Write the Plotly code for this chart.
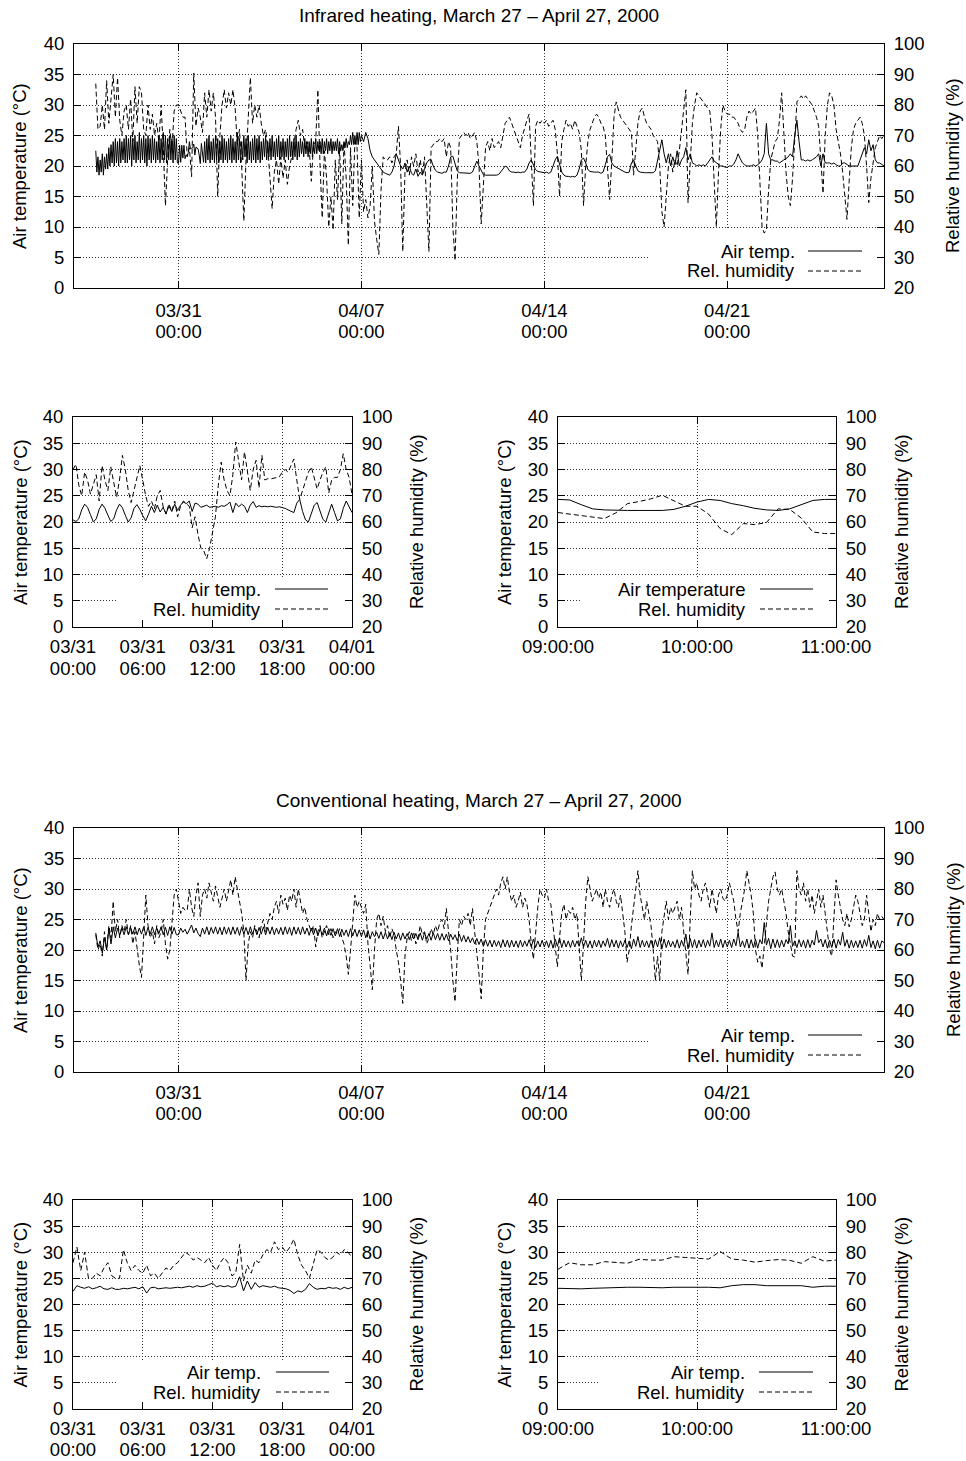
import plotly.graph_objects as go
import pandas as pd

# ---------------- DATA ----------------
# Infrared, hourly 2000-03-27 20:00 .. 2000-04-06 23:00 (fast thermostat cycling)
ir_temp_hourly = [
    22.5, 19.0, 21.5, 18.5,
    21, 19, 22, 18.5, 21.5, 19.5, 22, 19.5, 23, 20, 23.5, 20.5, 24, 20, 24.5, 20.5, 24, 20, 24.5, 20.5, 24, 21, 24.5, 20.5,  # 03/28
    25, 20.5, 24.5, 21, 25, 20, 24.5, 21, 25, 20.5, 24, 21, 25.5, 20.5, 24.5, 21, 25, 20.5, 24.5, 20, 25, 21, 24.5, 20.5,  # 03/29
    25, 21, 24.5, 20.5, 24, 21, 25, 20.5, 24.5, 21, 25.5, 21, 25, 20.5, 24.5, 21, 25, 21, 24.5, 20.5, 25, 21, 24.5, 20.5,  # 03/30
    20.4, 23.4, 20.6, 23.4, 21.3, 23.4, 21.2, 21.8, 21.6, 22.2, 24.0, 22.8, 22.9, 23.0, 23.6, 21.8, 23.1, 23.0, 22.8, 21.8, 20.4, 23.7, 21.6, 20.6,  # 03/31
    24, 20.5, 24.5, 21, 25, 20.5, 24, 21, 24.5, 20.5, 25, 21, 24.5, 20.5, 24, 21, 25, 20.5, 24.5, 21, 24, 20.5, 24.5, 21,  # 04/01
    25, 20.5, 24.5, 21, 24, 20.5, 25.5, 21, 24.5, 20.5, 24, 21, 25, 21.5, 24.5, 20.5, 25, 21, 24, 20.5, 24.5, 21, 25, 20.5,  # 04/02
    24.5, 21, 25, 20.5, 24, 21, 24.5, 21.5, 25, 21, 24, 21.5, 24.5, 21, 25, 21.5, 24, 21, 24.5, 21.5, 25, 21, 24, 21.5,  # 04/03
    24.5, 21, 24, 21.5, 24.5, 21, 25, 21.5, 24, 21, 24.5, 21.5, 25, 21, 24, 21.5, 24.5, 22, 24, 21.5, 24.5, 22, 24, 21.5,  # 04/04
    24, 22, 24.5, 21.5, 24, 22, 24.5, 22, 24, 22.5, 24, 22, 24.5, 22, 24, 22.5, 24.5, 22, 24, 22.5, 24.5, 22, 24, 22.5,  # 04/05
    24, 22.5, 24.5, 22, 24, 22.5, 23.5, 22.5, 24, 23, 24.5, 23, 24, 23.5, 25, 23.5, 25.5, 23.5, 25, 23.5, 25.5, 23.5, 25.5, 24,  # 04/06
]
# Infrared, 2-hourly 2000-04-07 00:00 .. 2000-04-27 00:00
ir_temp_month = [
    25.0, 24.0, 25.5, 24.5, 22.5, 21.5, 21.0, 20.5, 20.0, 19.5, 19.0, 18.8,  # 04/07
    18.6, 18.5, 19.0, 20.0, 22.0, 21.0, 20.0, 19.5, 20.5, 19.0, 20.0, 18.8,  # 04/08
    18.5, 19.5, 18.3, 19.0, 18.5, 19.5, 20.5, 21.0, 21.0, 20.0, 19.3, 19.0,  # 04/09
    18.9, 18.8, 19.0, 19.0, 20.0, 21.5, 21.6, 20.5, 19.2, 18.9, 18.9, 18.8,  # 04/10
    18.9, 18.9, 18.8, 19.0, 20.0, 20.8, 20.0, 19.2, 18.6, 18.5, 18.5, 18.4,  # 04/11
    18.5, 18.4, 18.5, 18.6, 19.0, 19.5, 20.0, 19.8, 19.2, 19.0, 19.0, 18.9,  # 04/12
    19.0, 18.9, 19.0, 19.0, 19.5, 20.5, 21.0, 20.2, 19.4, 19.1, 19.0, 19.0,  # 04/13
    18.9, 19.0, 18.8, 19.0, 20.0, 21.0, 21.6, 20.5, 19.0, 18.5, 18.3, 18.3,  # 04/14
    18.2, 18.3, 18.2, 18.5, 19.5, 21.0, 21.3, 20.5, 19.4, 19.1, 19.0, 19.0,  # 04/15
    19.0, 19.0, 18.8, 19.0, 20.2, 21.5, 21.9, 20.5, 20.0, 19.8, 19.5, 19.4,  # 04/16
    19.2, 19.0, 18.9, 19.0, 20.5, 21.0, 20.0, 19.2, 19.0, 18.9, 18.9, 18.9,  # 04/17
    18.9, 18.8, 18.9, 19.2, 21.0, 23.0, 24.3, 22.0, 20.5, 22.0, 20.0, 21.5,  # 04/18
    20.2, 22.5, 20.0, 21.0, 21.5, 23.0, 21.0, 22.0, 20.5, 20.3, 20.0, 20.2,  # 04/19
    20.0, 20.2, 20.0, 20.5, 21.0, 21.5, 20.8, 20.5, 20.2, 20.0, 20.0, 19.8,  # 04/20
    19.8, 20.0, 20.0, 20.3, 21.0, 22.0, 21.2, 20.5, 20.2, 20.0, 20.0, 20.0,  # 04/21
    20.2, 20.0, 20.2, 20.5, 21.0, 22.0, 27.0, 22.0, 21.0, 21.0, 20.8, 20.8,  # 04/22
    20.5, 20.8, 21.0, 21.2, 21.5, 22.0, 21.5, 25.0, 27.5, 24.0, 21.0, 21.0,  # 04/23
    20.8, 21.0, 20.8, 21.0, 21.2, 21.5, 22.0, 20.0, 22.0, 20.5, 20.5, 20.5,  # 04/24
    20.3, 20.5, 20.2, 20.0, 20.0, 20.5, 20.5, 20.2, 20.0, 20.0, 20.0, 20.0,  # 04/25
    20.0, 21.0, 22.0, 23.0, 22.0, 24.3, 22.5, 23.5, 21.0, 20.5, 20.5, 20.3,  # 04/26
    20.0,
]
# Infrared RH, 2-hourly from 2000-03-27 20:00
ir_rh_month = [
    87, 72,
    73, 80, 72, 88, 74, 82, 90, 76, 89, 75, 70, 78,  # 03/28
    80, 72, 82, 68, 86, 74, 86, 84, 72, 70, 80, 72,  # 03/29
    77, 70, 74, 68, 80, 66, 47, 62, 72, 66, 78, 80,  # 03/30
    80, 78, 76, 76, 63, 66, 56.5, 90.5, 73, 79, 76, 71,  # 03/31
    84, 76, 85, 78, 84, 76, 50, 70, 80, 85, 79, 84,  # 04/01
    80, 85, 79, 67, 72, 60, 42, 62, 75, 89, 74, 80,  # 04/02
    76, 80, 74, 70, 72, 66, 56, 46, 58, 62, 54, 63,  # 04/03
    56, 62, 54, 60, 63, 68, 72, 75, 70, 72, 66, 68,  # 04/04
    66, 55, 67, 68, 85, 60, 43, 65, 56, 40, 50, 39,  # 04/05
    62, 49, 66, 41, 68, 56, 34, 66, 47, 68, 66, 43,  # 04/06
    62, 45, 49, 43, 47, 60, 42, 36, 31, 52, 63, 62,  # 04/07
    62, 63, 61, 63, 64, 73, 60, 32, 58, 62, 57, 63,  # 04/08
    60, 64, 58, 62, 57, 63, 45, 32, 66, 67, 68, 68,  # 04/09
    69, 68, 69, 63, 68, 66, 40, 29, 55, 69, 70, 71,  # 04/10
    70, 71, 69, 70, 71, 68, 60, 41, 56, 66, 68, 65,  # 04/11
    69, 66, 67, 68, 66, 70, 74, 75, 76, 74, 72, 70,  # 04/12
    68, 66, 70, 73, 75, 77, 60, 47, 73, 75, 74, 75,  # 04/13
    74, 75, 73, 74, 75, 72, 64, 50, 68, 72, 75, 73,  # 04/14
    74, 72, 75, 73, 71, 65, 47, 60, 68, 72, 74, 76,  # 04/15
    77, 76, 74, 73, 70, 60, 49, 62, 76, 81, 78, 76,  # 04/16
    75, 74, 73, 72, 71, 57, 66, 74, 78, 79, 76, 74,  # 04/17
    73, 72, 70, 69, 68, 60, 45, 40, 52, 60, 64, 58,  # 04/18
    62, 60, 65, 72, 80, 85, 48, 62, 74, 80, 84, 83,  # 04/19
    82, 81, 80, 79, 78, 70, 55, 40, 58, 72, 80, 78,  # 04/20
    77, 77, 76, 76, 75, 74, 72, 71, 72, 76, 78, 77,  # 04/21
    78, 79, 70, 55, 40, 38, 39, 52, 62, 65, 68, 69,  # 04/22
    75, 84, 70, 58, 50, 47, 56, 70, 81, 82, 83, 82,  # 04/23
    83, 82, 81, 80, 78, 76, 73, 60, 51, 70, 80, 84,  # 04/24
    83, 80, 72, 68, 64, 58, 50, 42.5, 55, 66, 72, 74,  # 04/25
    75, 76, 74, 70, 60, 48, 56, 62, 66, 68, 70, 69,  # 04/26
    70,
]
# Conventional, 2-hourly from 2000-03-27 20:00
conv_temp_month = [
    22.8, 20.5,
    21.5, 19.5, 22.0, 20.0, 23.5, 21.0, 23.8, 22.0, 23.6, 22.4, 23.7, 22.5,  # 03/28
    23.8, 22.5, 23.7, 22.6, 23.8, 22.5, 23.6, 22.6, 23.8, 22.4, 23.7, 22.6,  # 03/29
    23.8, 22.5, 23.6, 22.7, 23.8, 22.5, 23.7, 22.4, 23.8, 22.6, 23.7, 22.5,  # 03/30
    22.5, 23.6, 22.9, 23.4, 22.6, 23.5, 24.1, 22.8, 23.6, 22.7, 22.2, 23.6,  # 03/31
    22.6, 23.8, 22.5, 23.7, 22.7, 23.8, 22.6, 23.7, 22.5, 23.8, 22.6, 23.7,  # 04/01
    22.5, 23.8, 22.6, 23.7, 22.4, 23.8, 22.6, 23.7, 22.5, 23.8, 22.6, 23.6,  # 04/02
    22.5, 23.7, 22.6, 23.8, 22.5, 23.7, 22.6, 23.8, 22.5, 23.6, 22.6, 23.7,  # 04/03
    22.5, 23.8, 22.6, 23.7, 22.4, 23.8, 22.6, 23.7, 22.5, 23.8, 22.6, 23.6,  # 04/04
    22.4, 23.6, 22.5, 23.6, 22.3, 23.5, 22.5, 23.6, 22.3, 23.5, 22.4, 23.5,  # 04/05
    22.3, 23.5, 22.2, 23.4, 22.4, 23.3, 22.2, 23.5, 22.3, 23.4, 22.2, 23.3,  # 04/06
    22.2, 23.3, 22.0, 23.2, 21.8, 23.0, 22.2, 22.9, 21.9, 23.0, 21.8, 22.9,  # 04/07
    21.8, 22.8, 21.7, 22.9, 21.8, 22.8, 21.6, 22.8, 21.8, 22.7, 21.7, 22.8,  # 04/08
    21.8, 22.7, 21.7, 22.8, 21.6, 22.8, 21.8, 22.7, 21.6, 22.8, 21.7, 22.7,  # 04/09
    21.6, 22.7, 21.6, 22.6, 21.5, 22.6, 21.7, 22.5, 21.5, 22.6, 21.4, 22.4,  # 04/10
    21.3, 22.2, 21.2, 22.0, 21.0, 21.9, 20.9, 21.8, 20.6, 21.7, 20.6, 21.6,  # 04/11
    20.5, 21.6, 20.6, 21.5, 20.4, 21.7, 20.5, 21.6, 20.4, 21.6, 20.5, 21.5,  # 04/12
    20.4, 21.6, 20.5, 21.5, 20.6, 21.7, 20.5, 21.8, 20.4, 21.5, 20.5, 21.6,  # 04/13
    20.5, 21.5, 20.4, 21.6, 20.3, 21.8, 20.6, 22.0, 20.4, 21.6, 20.5, 21.5,  # 04/14
    20.4, 21.6, 20.5, 21.5, 20.6, 22.0, 20.5, 21.6, 20.4, 21.5, 20.3, 21.6,  # 04/15
    20.5, 21.6, 20.4, 21.5, 20.6, 21.9, 20.4, 21.7, 20.5, 21.6, 20.3, 21.5,  # 04/16
    20.5, 21.6, 20.4, 21.5, 20.2, 21.8, 20.6, 22.2, 20.4, 21.6, 20.5, 21.5,  # 04/17
    20.4, 21.6, 20.3, 21.7, 20.5, 22.0, 20.2, 21.8, 20.4, 21.6, 20.5, 21.4,  # 04/18
    20.4, 21.7, 20.3, 21.6, 20.6, 22.6, 20.2, 21.9, 20.4, 21.7, 20.3, 21.6,  # 04/19
    20.5, 21.7, 20.4, 21.6, 20.6, 22.8, 20.4, 21.6, 20.5, 21.8, 20.4, 21.6,  # 04/20
    20.5, 21.6, 20.4, 21.8, 20.7, 22.9, 20.5, 21.5, 20.4, 21.8, 20.3, 21.7,  # 04/21
    20.4, 21.8, 20.3, 21.7, 21.0, 24.5, 20.8, 21.9, 20.2, 21.8, 20.4, 21.7,  # 04/22
    20.4, 21.6, 20.5, 21.7, 21.0, 24.0, 20.6, 21.5, 20.4, 21.7, 20.5, 21.6,  # 04/23
    20.3, 21.7, 20.4, 21.6, 20.8, 23.2, 21.2, 21.8, 20.5, 21.7, 20.3, 21.6,  # 04/24
    20.4, 21.8, 20.3, 21.7, 20.8, 22.9, 20.6, 21.7, 20.3, 21.6, 20.4, 21.5,  # 04/25
    20.4, 21.6, 20.3, 21.7, 20.6, 22.4, 20.4, 21.5, 20.2, 21.6, 20.3, 21.5,  # 04/26
    21.2,
]
conv_rh_month = [
    65, 60,
    62, 58, 66, 60, 68, 64, 76, 66, 70, 64, 68, 66,  # 03/28
    70, 65, 68, 62, 66, 60, 55, 51, 64, 78, 68, 64,  # 03/29
    66, 62, 68, 64, 66, 70, 62, 57, 60, 70, 78, 80,  # 03/30
    76, 72, 74, 73, 73, 80, 74, 71, 78, 82, 71, 78,  # 03/31
    80, 77, 82, 79, 76, 81, 78, 74, 77, 80, 76, 79,  # 04/01
    83, 78, 84, 80, 76, 72, 66, 50, 62, 66, 64, 68,  # 04/02
    66, 64, 68, 70, 66, 69, 72, 70, 74, 76, 72, 78,  # 04/03
    75, 77, 73, 78, 76, 80, 74, 80, 76, 72, 74, 70,  # 04/04
    68, 66, 68, 61, 66, 68, 64, 66, 68, 65, 67, 64,  # 04/05
    66, 65, 67, 64, 62, 58, 52, 60, 70, 78, 74, 76,  # 04/06
    74, 72, 75, 62, 55, 47, 60, 70, 72, 68, 71, 66,  # 04/07
    68, 64, 67, 65, 60, 56, 50, 42.5, 58, 64, 66, 63,  # 04/08
    66, 62, 64, 68, 65, 66, 62, 64, 67, 65, 68, 66,  # 04/09
    69, 70, 67, 73.6, 66, 60, 50, 43, 58, 70, 68, 71,  # 04/10
    70, 72, 68, 73.6, 66, 60, 52, 44, 60, 70, 72, 74,  # 04/11
    76, 78, 80, 78, 82, 84, 80, 84, 79, 76, 78, 74,  # 04/12
    76, 79, 74, 77, 75, 70, 62, 57, 66, 74, 80, 78,  # 04/13
    77, 80, 76, 75, 68, 60, 54.5, 64, 72, 75, 70, 73,  # 04/14
    72, 74, 70, 72, 62, 50, 62, 76, 84, 80, 76, 78,  # 04/15
    80, 77, 79, 74, 80, 76, 74, 78, 80, 76, 74, 78,  # 04/16
    72, 66, 56, 60, 68, 74, 80, 86, 78, 74, 70, 76,  # 04/17
    72, 68, 60, 50, 58, 50, 66, 72, 76, 70, 74, 72,  # 04/18
    74, 76, 70, 74, 66, 60, 52, 70, 86, 80, 82, 78,  # 04/19
    76, 80, 82, 78, 74, 80, 76, 72, 78, 80, 77, 76,  # 04/20
    78, 82, 79, 76, 70, 66, 72, 76, 80, 86, 82, 78,  # 04/21
    72, 60, 56, 58, 54, 62, 70, 76, 80, 84, 85.6, 80,  # 04/22
    78, 80, 76, 72, 66, 62, 58, 57.7, 86, 80, 78, 82,  # 04/23
    76, 80, 74, 78, 72, 76, 80, 74, 78, 72, 66, 60,  # 04/24
    58, 72, 83, 78, 74, 70, 68, 72, 67.6, 70, 74, 78,  # 04/25
    76, 72, 68, 70, 78, 72, 66, 70, 68, 72, 70, 71,  # 04/26
    70,
]

# One day, infrared, every 15 min from 2000-03-31 00:00 (one row per hour)
ir_temp_day = [
    20.4, 20.1, 20.6, 22.3,  23.4, 22.8, 21.4, 20.0,  20.6, 22.4, 23.4, 22.6,
    21.3, 20.1, 20.6, 22.3,  23.4, 22.7, 21.3, 20.0,  20.8, 22.6, 23.3, 22.4,
    21.2, 20.2, 21.5, 23.0,  21.8, 23.2, 21.9, 22.8,  21.6, 23.0, 22.0, 23.4,
    22.2, 23.2, 23.8, 23.5,  24.0, 22.0, 23.6, 23.4,  22.8, 23.0, 23.2, 22.8,
    22.9, 23.0, 22.8, 23.1,  23.0, 23.3, 23.8, 21.8,  23.6, 22.9, 23.4, 23.0,
    21.8, 23.2, 23.9, 22.8,  23.1, 22.9, 23.0, 22.9,  23.0, 22.9, 22.8, 22.9,
    22.8, 22.6, 22.3, 22.0,  21.8, 23.6, 24.3, 22.0,  20.4, 20.0, 21.8, 23.2,
    23.7, 22.0, 20.5, 20.0,  21.6, 23.4, 21.8, 20.2,  20.6, 22.6, 24.0, 23.0,
    21.8,
]
ir_rh_day = [
    80, 82, 74, 70,  79, 76, 70.6, 74,  78, 68, 81.5, 76,
    72, 81, 75, 69.4,  76, 85.4, 80, 72,  67.4, 72, 76, 81.5,
    76, 70, 66, 68,  65, 70, 72, 66,  63, 67, 64, 68,
    62, 66, 68, 67,  66, 57.8, 62, 55.3,  50, 49, 46, 50,
    56.5, 62, 74, 82.8,  76, 72, 70, 78,  90.5, 83.5, 76, 86.7,
    80, 72, 80, 83.5,  73, 85.4, 76, 76.5,  76.4, 76.6, 76.8, 77.2,
    79, 80, 79, 81.5,  84, 76, 68.7, 72,  76, 79, 81, 77,
    72.6, 76, 79, 81,  71, 76, 77, 77,  80, 86, 80, 77,
    70.6,
]
# Two hours, infrared, every 5 min from 09:00
ir_temp_2h = [24.3, 24.2, 23.3, 22.5, 22.3, 22.2, 22.2, 22.2, 22.2, 22.2, 22.4, 23.0,
              23.8, 24.3, 24.1, 23.5, 23.1, 22.6, 22.3, 22.2, 22.5, 23.3, 24.1, 24.3, 24.3]
ir_rh_2h = [63.6, 63.0, 62.6, 61.8, 61.3, 63.5, 67.0, 67.8, 68.8, 70.2, 68.0, 66.0,
            66.0, 63.0, 57.5, 55.2, 59.4, 59.0, 59.8, 65.0, 64.8, 61.5, 56.2, 55.6, 55.6]

# One day, conventional, every 20 min from 2000-03-31 00:00
conv_temp_day = [
    22.5, 23.6, 23.3, 23.1, 23.4, 23.0, 23.2, 23.5, 23.0, 22.9, 23.2, 22.9,
    22.9, 23.1, 23.0, 23.1, 23.3, 23.0, 23.4, 22.2, 23.2, 23.3, 23.0, 23.1,
    23.2, 23.1, 23.2, 23.3, 23.2, 23.3, 23.5, 23.3, 23.6, 23.4, 23.5, 23.8,
    24.1, 23.4, 23.6, 23.4, 23.6, 23.3, 23.5, 25.3, 22.6, 24.5, 22.9, 24.2,
    23.3, 23.6, 23.4, 23.3, 23.5, 23.2, 23.1, 23.0, 22.7, 22.1, 22.6, 22.4,
    22.9, 24.0, 23.3, 22.9, 23.1, 23.0, 23.3, 23.1, 23.2, 22.9, 23.3, 23.0,
    23.3,
]
conv_rh_day = [
    76, 82, 73, 80, 70, 70, 72, 71, 74, 76, 71, 70,
    70, 81, 76, 73, 75, 73, 72, 75, 71, 72, 70, 72,
    74, 73, 75, 76, 78, 80, 79, 77, 78, 77, 76, 78,
    75, 73, 76, 78, 76, 71, 72, 83, 69, 75, 72, 77,
    76, 79, 81, 80, 84, 81, 82, 80, 82, 85, 79, 75,
    73, 70, 76, 81, 80, 78, 77, 78, 80, 79, 81, 80,
    78,
]
# Two hours, conventional, every 5 min from 09:00
conv_temp_2h = [23.1, 23.0, 23.0, 23.1, 23.2, 23.2, 23.3, 23.3, 23.2, 23.2, 23.3, 23.3,
                23.4, 23.3, 23.2, 23.6, 23.8, 23.8, 23.6, 23.6, 23.5, 23.6, 23.3, 23.5, 23.5]
conv_rh_2h = [73.5, 76.0, 75.2, 75.2, 76.4, 76.0, 75.8, 77.3, 77.0, 77.0, 78.3, 78.0,
              77.6, 77.4, 80.3, 77.4, 77.0, 76.2, 76.8, 77.2, 76.9, 75.8, 78.3, 76.6, 77.0]

month_tick_dates = ["2000-03-31", "2000-04-07", "2000-04-14", "2000-04-21"]
month_tick_dates_lbl = ["03/31", "04/07", "04/14", "04/21"]
month_tick_time_lbl = ["00:00", "00:00", "00:00", "00:00"]
day_tick_dates = ["2000-03-31 00:00", "2000-03-31 06:00", "2000-03-31 12:00",
                  "2000-03-31 18:00", "2000-04-01 00:00"]
day_tick_dates_lbl = ["03/31", "03/31", "03/31", "03/31", "04/01"]
day_tick_time_lbl = ["00:00", "06:00", "12:00", "18:00", "00:00"]
hour_tick_dates = ["2000-03-31 09:00", "2000-03-31 10:00", "2000-03-31 11:00"]
hour_tick_labels = ["09:00:00", "10:00:00", "11:00:00"]

titles = ["Infrared heating, March 27 \u2013 April 27, 2000",
          "Conventional heating, March 27 \u2013 April 27, 2000"]

# ---------------- FIGURE ----------------
W, H = 966, 1461
FONT = "Liberation Sans, Arial, Helvetica, sans-serif"
FS = 18.5


def times(start, freq, n):
    return pd.date_range(start=start, periods=n, freq=freq)


ir_month_t = times("2000-03-27 20:00", "1h", len(ir_temp_hourly)).append(
    times("2000-04-07 00:00", "2h", len(ir_temp_month)))
ir_month_temp = ir_temp_hourly + ir_temp_month

panels = [
    dict(box=(74, 884, 44, 288), t=ir_month_t, temp=ir_month_temp,
         t_rh=times("2000-03-27 20:00", "2h", len(ir_rh_month)), rh=ir_rh_month,
         rng=["2000-03-27", "2000-04-27"],
         tv=month_tick_dates, tt=month_tick_dates_lbl, tt2=month_tick_time_lbl,
         leg="Air temp.", box_l=648, box_top=230,
         txt_r=797, samp=(808, 862), ly=(251, 271), so=(6, 30)),
    dict(box=(73, 352, 417, 627), t=times("2000-03-31 00:00", "15min", len(ir_temp_day)),
         temp=ir_temp_day, t_rh=None, rh=ir_rh_day,
         rng=["2000-03-31 00:00", "2000-04-01 00:00"],
         tv=day_tick_dates, tt=day_tick_dates_lbl, tt2=day_tick_time_lbl,
         leg="Air temp.", box_l=117, box_top=577,
         txt_r=263, samp=(275, 328), ly=(589, 609), so=(3, 28)),
    dict(box=(558, 836, 417, 627), t=times("2000-03-31 09:00", "5min", len(ir_temp_2h)),
         temp=ir_temp_2h, t_rh=None, rh=ir_rh_2h,
         rng=["2000-03-31 09:00", "2000-03-31 11:00"],
         tv=hour_tick_dates, tt=hour_tick_labels, tt2=None,
         leg="Air temperature", box_l=580, box_top=577,
         txt_r=748, samp=(760, 813), ly=(589, 609), so=(3, 0)),
    dict(box=(74, 884, 828, 1072), t=times("2000-03-27 20:00", "2h", len(conv_temp_month)),
         temp=conv_temp_month, t_rh=None, rh=conv_rh_month,
         rng=["2000-03-27", "2000-04-27"],
         tv=month_tick_dates, tt=month_tick_dates_lbl, tt2=month_tick_time_lbl,
         leg="Air temp.", box_l=648, box_top=1014,
         txt_r=797, samp=(808, 862), ly=(1035, 1055), so=(4, 28)),
    dict(box=(73, 352, 1200, 1409), t=times("2000-03-31 00:00", "20min", len(conv_temp_day)),
         temp=conv_temp_day, t_rh=None, rh=conv_rh_day,
         rng=["2000-03-31 00:00", "2000-04-01 00:00"],
         tv=day_tick_dates, tt=day_tick_dates_lbl, tt2=day_tick_time_lbl,
         leg="Air temp.", box_l=117, box_top=1361,
         txt_r=263, samp=(276, 329), ly=(1372, 1392), so=(3, 27)),
    dict(box=(558, 836, 1200, 1409), t=times("2000-03-31 09:00", "5min", len(conv_temp_2h)),
         temp=conv_temp_2h, t_rh=None, rh=conv_rh_2h,
         rng=["2000-03-31 09:00", "2000-03-31 11:00"],
         tv=hour_tick_dates, tt=hour_tick_labels, tt2=None,
         leg="Air temp.", box_l=600, box_top=1361,
         txt_r=747, samp=(759, 813), ly=(1372, 1392), so=(3, 0)),
]

fig = go.Figure()
layout = dict(width=W, height=H, margin=dict(l=0, r=0, t=0, b=0, autoexpand=False),
              paper_bgcolor="white", plot_bgcolor="white", showlegend=False,
              font=dict(family=FONT, size=FS, color="black"))
shapes, annotations = [], []

GRID = dict(showgrid=True, gridcolor="#333333", gridwidth=1, griddash="1px,2px")
TF = dict(family=FONT, size=FS, color="black")
AX = dict(ticks="inside", ticklen=7, tickcolor="black", tickwidth=1, automargin=False,
          showline=True, linecolor="black", linewidth=1, zeroline=False, tickfont=TF)

ghost_n = 7
for i, p in enumerate(panels, start=1):
    x0, x1, y0, y1 = p["box"]
    xa = f"x{i}" if i > 1 else "x"
    yl_n, yr_n = 2 * i - 1, 2 * i
    yl = f"y{yl_n}" if yl_n > 1 else "y"
    yr = f"y{yr_n}"
    t_rh = p["t_rh"] if p["t_rh"] is not None else p["t"]
    fig.add_trace(go.Scatter(x=p["t"], y=p["temp"], xaxis=xa, yaxis=yl, mode="lines",
                             line=dict(color="black", width=1), name=p["leg"]))
    fig.add_trace(go.Scatter(x=t_rh, y=p["rh"], xaxis=xa, yaxis=yr, mode="lines",
                             line=dict(color="black", width=1, dash="5px,3px"),
                             name="Rel. humidity"))
    xkey = "xaxis" if i == 1 else f"xaxis{i}"
    ylkey = "yaxis" if yl_n == 1 else f"yaxis{yl_n}"
    yrkey = f"yaxis{yr_n}"
    layout[xkey] = dict(AX, **GRID, type="date", domain=[x0 / W, x1 / W], anchor=yl,
                        range=p["rng"], tickmode="array", tickvals=p["tv"], ticktext=p["tt"],
                        mirror="ticks", ticklabelstandoff=p["so"][0])
    layout[ylkey] = dict(AX, **GRID, domain=[1 - y1 / H, 1 - y0 / H], anchor=xa,
                         range=[0, 40], tickmode="linear", tick0=0, dtick=5,
                         ticklabelstandoff=5)
    layout[yrkey] = dict(AX, showgrid=False, overlaying=yl, side="right", anchor=xa,
                         range=[20, 100], tickmode="linear", tick0=20, dtick=10,
                         ticklabelstandoff=5)

    # second line of the date/time tick labels on an overlaying x axis
    if p["tt2"] is not None:
        gk = f"xaxis{ghost_n}"
        layout[gk] = dict(type="date", overlaying=xa, anchor=yl, side="bottom",
                          range=p["rng"], tickmode="array", tickvals=p["tv"],
                          ticktext=p["tt2"], showgrid=False, showline=False, zeroline=False,
                          automargin=False, ticks="", tickfont=TF,
                          ticklabelstandoff=p["so"][1])
        fig.add_trace(go.Scatter(x=[], y=[], xaxis=f"x{ghost_n}", yaxis=yl, mode="lines",
                                 hoverinfo="skip", showlegend=False))
        ghost_n += 1

    # opaque key box (hides grid under the key)
    r0, r1 = pd.Timestamp(p["rng"][0]), pd.Timestamp(p["rng"][1])
    box_x0 = r0 + (r1 - r0) * ((p["box_l"] - x0) / (x1 - x0))
    box_y1 = 40 * (y1 - p["box_top"]) / (y1 - y0)
    shapes.append(dict(type="rect", xref=xa, yref=yl, layer="between",
                       x0=box_x0, x1=r1, y0=0, y1=box_y1,
                       fillcolor="white", line=dict(width=0)))
    # key entries
    for label, ly, dash in [(p["leg"], p["ly"][0], "solid"), ("Rel. humidity", p["ly"][1], "5px,3px")]:
        annotations.append(dict(text=label, x=p["txt_r"] / W, y=1 - ly / H, xref="paper",
                                yref="paper", xanchor="right", yanchor="middle",
                                showarrow=False, font=TF))
        shapes.append(dict(type="line", xref="paper", yref="paper",
                           x0=p["samp"][0] / W, x1=p["samp"][1] / W,
                           y0=1 - ly / H, y1=1 - ly / H,
                           line=dict(color="black", width=1, dash=dash)))
    # axis titles
    cy = (y0 + y1) / 2
    lx = 20 if x0 < 100 else 504
    rx = 953 if x1 > 850 else (416 if x1 < 400 else 901)
    annotations.append(dict(text="Air temperature (\u00b0C)", x=lx / W, y=1 - cy / H,
                            xref="paper", yref="paper", textangle=-90, showarrow=False,
                            xanchor="center", yanchor="middle", font=TF))
    annotations.append(dict(text="Relative humidity (%)", x=rx / W, y=1 - cy / H,
                            xref="paper", yref="paper", textangle=-90, showarrow=False,
                            xanchor="center", yanchor="middle", font=TF))

for title, ty in zip(titles, [16, 800]):
    annotations.append(dict(text=title, x=479 / W, y=1 - ty / H, xref="paper", yref="paper",
                            xanchor="center", yanchor="middle", showarrow=False,
                            font=dict(family=FONT, size=19, color="black")))

layout["shapes"] = shapes
layout["annotations"] = annotations
fig.update_layout(**layout)
fig.write_html("out.html", config={"displayModeBar": False},
               post_script="document.body.style.margin='0px';document.body.style.overflow='hidden';")
